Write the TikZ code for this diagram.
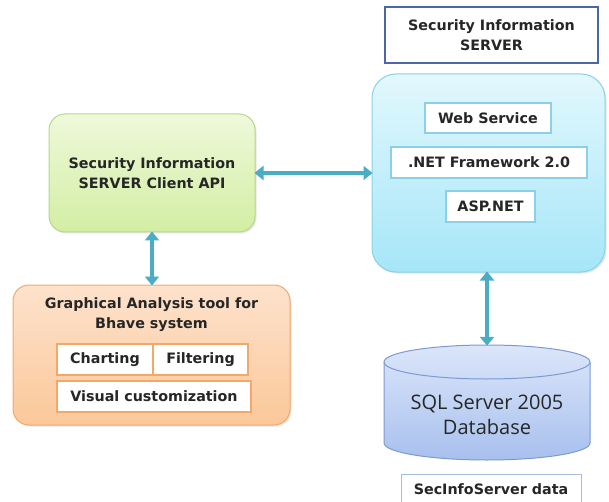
\documentclass[tikz,border=0pt]{standalone}
\usepackage{fontspec}
\setmainfont{DejaVu Sans}
\newfontfamily\dbfont{Open Sans}
\usetikzlibrary{arrows.meta,shadows}
\definecolor{arr}{HTML}{4BACC6}
\definecolor{grB}{HTML}{B5D78A}
\definecolor{grT}{HTML}{EEF9DA}
\definecolor{grD}{HTML}{D3EEA4}
\definecolor{orB}{HTML}{F4A868}
\definecolor{orT}{HTML}{FDE2CC}
\definecolor{orD}{HTML}{FBC89A}
\definecolor{blB}{HTML}{8AD0E8}
\definecolor{blT}{HTML}{E2F8FD}
\definecolor{blD}{HTML}{A6E6F8}
\definecolor{cyB}{HTML}{7B9BD0}
\definecolor{cyT}{HTML}{DCE6FA}
\definecolor{cyD}{HTML}{A8C0EE}
\definecolor{ttB}{HTML}{4A68A8}
\definecolor{sdB}{HTML}{A8BCE0}
\tikzset{
  lbl/.style={font=\bfseries\fontsize{14.3}{20}\selectfont, align=center, text=black!85},
  bigbox/.style={rounded corners=16pt, line width=1pt, lbl, drop shadow={shadow xshift=1.5pt, shadow yshift=-1.5pt, opacity=0.2}},
  inbox/.style={draw, fill=white, line width=1.2pt, lbl, inner sep=0pt},
  link/.style={draw=arr, line width=3.5pt, {Triangle[width=14pt,length=9pt]}-{Triangle[width=14pt,length=9pt]}, shorten <=-1pt, shorten >=-1pt},
}
\begin{document}
\begin{tikzpicture}[x=1pt,y=-1pt]
\useasboundingbox (0,0) rectangle (609,502);
% green client api
\node[bigbox, draw=grB, top color=grT, bottom color=grD, minimum width=206pt, minimum height=118pt] (api) at (152,173) {Security Information\\SERVER Client API};
% orange tool
\node[bigbox, draw=orB, top color=orT, bottom color=orD, minimum width=277pt, minimum height=140pt] (tool) at (151.5,355) {};
\node[lbl] (tooltitle) at (151.5,315) {Graphical Analysis tool for\\Bhave system};
\node[inbox, draw=orB, minimum width=96pt, minimum height=31pt] (chart) at (105,359.5) {Charting};
\node[inbox, draw=orB, minimum width=95pt, minimum height=31pt] (filt) at (200.5,359.5) {Filtering};
\node[inbox, draw=orB, minimum width=194pt, minimum height=31pt] (vis) at (154,396.5) {Visual customization};
% title
\node[draw=ttB, line width=1.2pt, fill=white, lbl, minimum width=213pt, minimum height=56pt] (title) at (491.5,35) {Security Information\\SERVER};
% blue server
\node[bigbox, rounded corners=24pt, draw=blB, top color=blT, bottom color=blD, minimum width=233pt, minimum height=198pt] (srv) at (488.5,173) {};
\node[inbox, draw=blB, minimum width=126pt, minimum height=30pt] (ws) at (488,118) {Web Service};
\node[inbox, draw=blB, minimum width=196pt, minimum height=31pt] (net) at (489,162.5) {.NET Framework 2.0};
\node[inbox, draw=blB, minimum width=89pt, minimum height=31pt] (asp) at (490.5,206.5) {ASP.NET};
% database cylinder
\shade[top color=cyT, bottom color=cyD, draw=cyB, line width=1pt]
  (384,362) -- (384,443) arc[start angle=180, end angle=360, x radius=103pt, y radius=17pt]
  -- (590,362) arc[start angle=0, end angle=180, x radius=103pt, y radius=17pt] -- cycle;
\draw[draw=cyB, line width=1pt] (384,362) arc[start angle=180, end angle=360, x radius=103pt, y radius=17pt];
\node[minimum width=206pt, minimum height=115pt, inner sep=0pt] (db) at (487,402.5) {};
\node[font=\dbfont\fontsize{20}{25}\selectfont, align=center, text=black!85] (dbtext) at (487,414.5) {SQL Server 2005\\Database};
% data label
\node[draw=sdB, line width=1pt, fill=white, lbl, minimum width=180pt, minimum height=30pt] (data) at (491,489) {SecInfoServer data};
% connectors
\path[link] (api.east) -- (srv.west |- api.east);
\path[link] (api.south) -- (tool.north -| api.south);
\path[link] (srv.south -| db.north) -- (db.north);
\end{tikzpicture}
\end{document}
